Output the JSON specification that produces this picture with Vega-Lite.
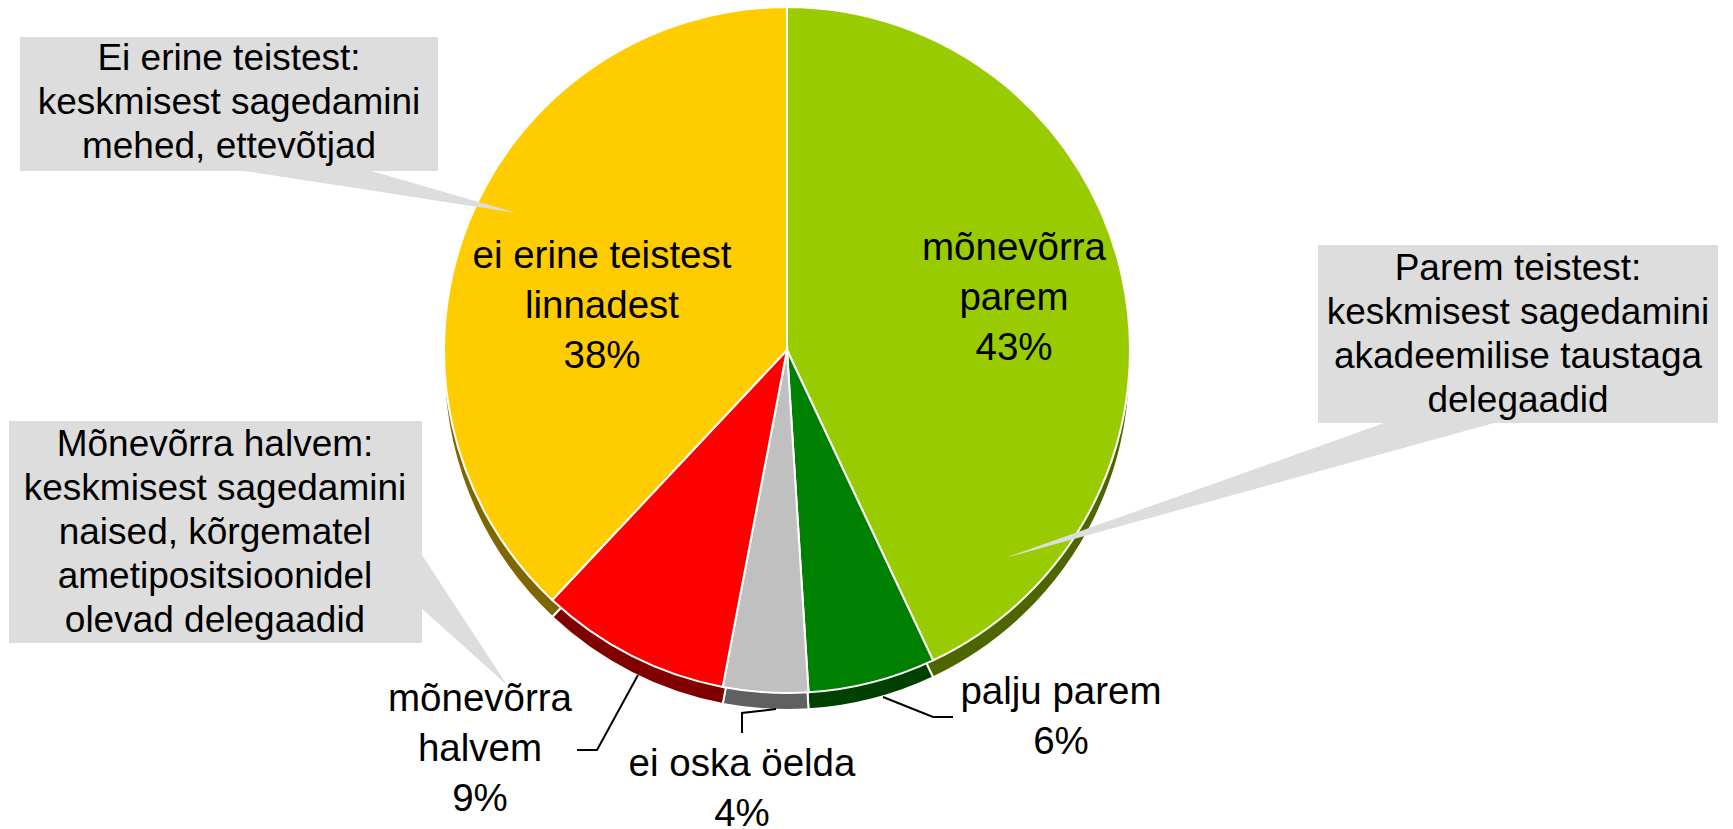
{
  "$schema": "https://vega.github.io/schema/vega-lite/v6.json",
  "autosize": "none",
  "padding": 0,
  "width": 1733,
  "height": 829,
  "background": "white",
  "config": {"view": {"stroke": null}},
  "datasets": {
    "slices": [
      {"cat": "mõnevõrra parem", "v": 43, "i": 1},
      {"cat": "palju parem", "v": 6, "i": 2},
      {"cat": "ei oska öelda", "v": 4, "i": 3},
      {"cat": "mõnevõrra halvem", "v": 9, "i": 4},
      {"cat": "ei erine teistest linnadest", "v": 38, "i": 5}
    ],
    "labels": [
      {"t": "mõnevõrra\nparem\n43%", "px": 227, "py": 102},
      {"t": "ei erine teistest\nlinnadest\n38%", "px": -185, "py": 94},
      {"t": "mõnevõrra\nhalvem\n9%", "px": -307, "py": -349},
      {"t": "ei oska öelda\n4%", "px": -45, "py": -414},
      {"t": "palju parem\n6%", "px": 274, "py": -342}
    ],
    "boxes": [
      {"b": 1, "x1": -767, "x2": -349, "y1": 313, "y2": 179, "tx": -558, "ty": 291, "t": "Ei erine teistest:\nkeskmisest sagedamini\nmehed, ettevõtjad"},
      {"b": 2, "x1": 531, "x2": 931, "y1": 105, "y2": -73, "tx": 731, "ty": 81, "t": "Parem teistest:\nkeskmisest sagedamini\nakadeemilise taustaga\ndelegaadid"},
      {"b": 3, "x1": -778, "x2": -365, "y1": -71, "y2": -293, "tx": -572, "ty": -95, "t": "Mõnevõrra halvem:\nkeskmisest sagedamini\nnaised, kõrgematel\nametipositsioonidel\nolevad delegaadid"}
    ],
    "wedges": [
      {"w": 1, "px": -543, "y1": 179, "y2": 179},
      {"w": 1, "px": -419, "y1": 180, "y2": 159.9},
      {"w": 1, "px": -270, "y1": 137, "y2": 137},
      {"w": 2, "px": 218, "y1": -208, "y2": -208},
      {"w": 2, "px": 600, "y1": -72, "y2": -102.5},
      {"w": 2, "px": 707, "y1": -72, "y2": -73},
      {"w": 3, "px": -367, "y1": -202, "y2": -257},
      {"w": 3, "px": -280, "y1": -335, "y2": -335}
    ],
    "leaders": [
      {"l": 1, "k": 1, "px": -149, "py": -325},
      {"l": 1, "k": 2, "px": -190, "py": -400},
      {"l": 1, "k": 3, "px": -210, "py": -400},
      {"l": 2, "k": 1, "px": -11, "py": -359},
      {"l": 2, "k": 2, "px": -45, "py": -363},
      {"l": 2, "k": 3, "px": -45, "py": -383},
      {"l": 3, "k": 1, "px": 96, "py": -347},
      {"l": 3, "k": 2, "px": 146, "py": -367},
      {"l": 3, "k": 3, "px": 166, "py": -367}
    ]
  },
  "resolve": {"scale": {"color": "independent"}},
  "layer": [
    {
      "data": {"name": "slices"},
      "mark": {"type": "arc", "radius": 343, "stroke": "white", "strokeWidth": 2},
      "encoding": {
        "x": {"datum": 0, "type": "quantitative", "scale": {"domain": [-787, 946], "nice": false, "zero": false}, "axis": null},
        "y": {"datum": -17, "type": "quantitative", "scale": {"domain": [-479, 350], "nice": false, "zero": false}, "axis": null},
        "theta": {"field": "v", "type": "quantitative", "stack": true},
        "order": {"field": "i", "type": "quantitative"},
        "color": {
          "field": "cat", "type": "nominal", "legend": null,
          "scale": {
            "domain": ["mõnevõrra parem", "palju parem", "ei oska öelda", "mõnevõrra halvem", "ei erine teistest linnadest"],
            "range": ["#4D6600", "#004000", "#606060", "#800000", "#806600"]
          }
        }
      }
    },
    {
      "data": {"name": "slices"},
      "mark": {"type": "arc", "radius": 343, "stroke": "white", "strokeWidth": 2},
      "encoding": {
        "x": {"datum": 0, "type": "quantitative"},
        "y": {"datum": 0, "type": "quantitative"},
        "theta": {"field": "v", "type": "quantitative", "stack": true},
        "order": {"field": "i", "type": "quantitative"},
        "color": {
          "field": "cat", "type": "nominal", "legend": null,
          "scale": {
            "domain": ["mõnevõrra parem", "palju parem", "ei oska öelda", "mõnevõrra halvem", "ei erine teistest linnadest"],
            "range": ["#99CC00", "#008000", "#C0C0C0", "#FF0000", "#FFCC00"]
          }
        }
      }
    },
    {
      "data": {"name": "wedges"},
      "mark": {"type": "area", "color": "#DDDDDD", "opacity": 1, "interpolate": "linear"},
      "encoding": {
        "x": {"field": "px", "type": "quantitative"},
        "y": {"field": "y1", "type": "quantitative"},
        "y2": {"field": "y2"},
        "detail": {"field": "w", "type": "nominal"}
      }
    },
    {
      "data": {"name": "boxes"},
      "mark": {"type": "rect", "color": "#DDDDDD"},
      "encoding": {
        "x": {"field": "x1", "type": "quantitative"},
        "x2": {"field": "x2"},
        "y": {"field": "y1", "type": "quantitative"},
        "y2": {"field": "y2"}
      }
    },
    {
      "data": {"name": "boxes"},
      "mark": {"type": "text", "font": "Liberation Sans", "fontSize": 37, "lineHeight": 44, "lineBreak": "\n", "align": "center", "baseline": "middle", "color": "black"},
      "encoding": {
        "x": {"field": "tx", "type": "quantitative"},
        "y": {"field": "ty", "type": "quantitative"},
        "text": {"field": "t", "type": "nominal"}
      }
    },
    {
      "data": {"name": "leaders"},
      "mark": {"type": "line", "color": "black", "strokeWidth": 2},
      "encoding": {
        "x": {"field": "px", "type": "quantitative"},
        "y": {"field": "py", "type": "quantitative"},
        "detail": {"field": "l", "type": "nominal"},
        "order": {"field": "k", "type": "quantitative"}
      }
    },
    {
      "data": {"name": "labels"},
      "mark": {"type": "text", "font": "Liberation Sans", "fontSize": 38.5, "lineHeight": 50, "lineBreak": "\n", "align": "center", "baseline": "middle", "color": "black"},
      "encoding": {
        "x": {"field": "px", "type": "quantitative"},
        "y": {"field": "py", "type": "quantitative"},
        "text": {"field": "t", "type": "nominal"}
      }
    }
  ]
}
